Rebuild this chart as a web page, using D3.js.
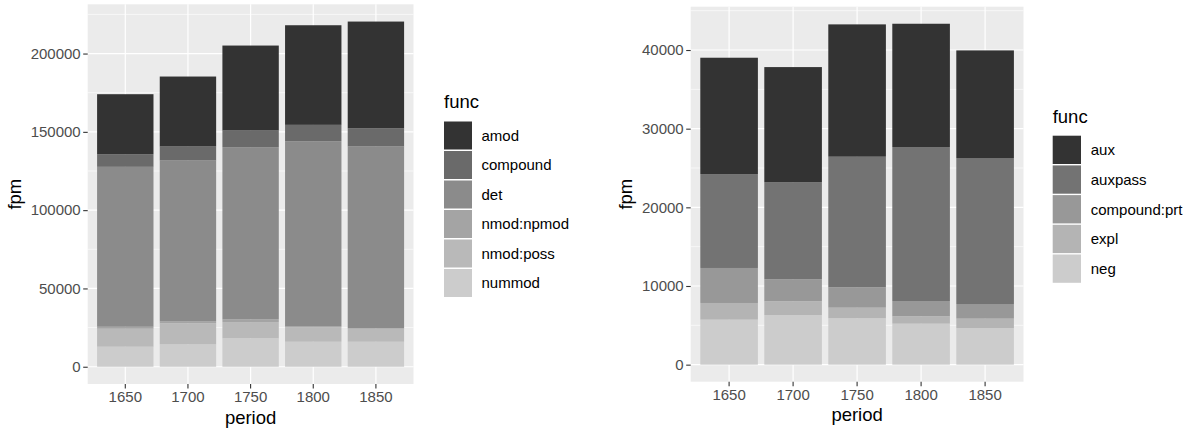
<!DOCTYPE html>
<html>
<head>
<meta charset="utf-8">
<script src="https://cdn.jsdelivr.net/npm/d3@7"></script>
<style>
  html, body { margin: 0; padding: 0; background: #fff; }
  svg { display: block; font-family: "Liberation Sans", Arial, Helvetica, sans-serif; }
</style>
</head>
<body>
<svg id="chart" width="1194" height="432"></svg>
<script>
// ---------- DATA ----------
const periods = ["1650", "1700", "1750", "1800", "1850"];

// Left chart (legend order, top of stack first)
const leftFuncs = ["amod", "compound", "det", "nmod:npmod", "nmod:poss", "nummod"];
const amodVals     = [38300, 44680, 54260, 63610, 68090];
const compoundVals = [8080, 8940, 10640, 10430, 11700];
const detVals      = [102130, 102550, 110000, 118080, 115960];
const npmodVals    = [1275, 1490, 1700, 640, 425];
const possVals     = [11485, 13400, 10420, 9360, 8295];
const nummodVals   = [12770, 14260, 18090, 15960, 15960];
const leftTicks = [0, 50000, 100000, 150000, 200000];

// Right chart
const rightFuncs = ["aux", "auxpass", "compound:prt", "expl", "neg"];
const auxVals     = [14790, 14655, 16820, 15675, 13680];
const auxpassVals = [11940, 12330, 16610, 19575, 18560];
const prtVals     = [4450, 2795, 2585, 1945, 1860];
const explVals    = [2120, 1740, 1355, 935, 1190];
const negVals     = [5720, 6310, 5890, 5210, 4660];
const rightTicks = [0, 10000, 20000, 30000, 40000];

const xTitle = "period", yTitle = "fpm", legendTitle = "func";

// ---------- HELPERS ----------
function greyColors(n, start = 0.2, end = 0.8, gamma = 2.2) {
  const a = Math.pow(start, gamma), b = Math.pow(end, gamma);
  return d3.range(n).map(i => {
    const v = Math.pow(a + (b - a) * i / (n - 1), 1 / gamma);
    const c = Math.round(v * 255);
    return d3.rgb(c, c, c).formatHex();
  });
}

const svg = d3.select("#chart");

function drawChart(cfg) {
  const { funcs, series, ticks, panel, legend } = cfg;
  const colors = greyColors(funcs.length);
  const rows = periods.map((p, i) => {
    const r = { period: p };
    funcs.forEach((f, k) => r[f] = series[k][i]);
    return r;
  });
  // stack bottom-first: last level at bottom
  const stackKeys = funcs.slice().reverse();
  const stacked = d3.stack().keys(stackKeys)(rows);
  const maxTot = d3.max(rows, r => d3.sum(funcs, f => r[f]));

  const x = d3.scaleBand().domain(periods)
    .range([panel.x0, panel.x1]).paddingInner(0.1).paddingOuter(0.15);
  const y = d3.scaleLinear().domain([-0.05 * maxTot, 1.05 * maxTot])
    .range([panel.y1, panel.y0]);

  const g = svg.append("g");
  // panel background
  g.append("rect").attr("x", panel.x0).attr("y", panel.y0)
    .attr("width", panel.x1 - panel.x0).attr("height", panel.y1 - panel.y0)
    .attr("fill", "#EBEBEB");
  // minor grid
  const step = ticks[1] - ticks[0];
  const [d0, d1] = y.domain();
  const minor = [];
  for (let v = Math.ceil((d0 - step / 2) / step) * step + step / 2; v <= d1; v += step) {
    if (v >= d0) minor.push(v);
  }
  g.selectAll(".minor").data(minor).join("line")
    .attr("x1", panel.x0).attr("x2", panel.x1)
    .attr("y1", d => y(d)).attr("y2", d => y(d))
    .attr("stroke", "#fff").attr("stroke-width", 0.6);
  // major grid
  g.selectAll(".majorY").data(ticks).join("line")
    .attr("x1", panel.x0).attr("x2", panel.x1)
    .attr("y1", d => y(d)).attr("y2", d => y(d))
    .attr("stroke", "#fff").attr("stroke-width", 1.2);
  g.selectAll(".majorX").data(periods).join("line")
    .attr("x1", d => x(d) + x.bandwidth() / 2).attr("x2", d => x(d) + x.bandwidth() / 2)
    .attr("y1", panel.y0).attr("y2", panel.y1)
    .attr("stroke", "#fff").attr("stroke-width", 1.2);

  // bars
  stacked.forEach(layer => {
    const col = colors[funcs.indexOf(layer.key)];
    g.append("g").selectAll("rect").data(layer).join("rect")
      .attr("x", d => x(d.data.period))
      .attr("width", x.bandwidth())
      .attr("y", d => y(d[1]))
      .attr("height", d => y(d[0]) - y(d[1]))
      .attr("fill", col);
  });

  // y axis
  const yAxis = d3.axisLeft(y).tickValues(ticks).tickSize(4.5).tickPadding(2.5)
    .tickFormat(d3.format("d"));
  const ya = g.append("g").attr("transform", `translate(${panel.x0},0)`).call(yAxis);
  ya.select(".domain").remove();
  ya.selectAll(".tick line").attr("stroke", "#333").attr("stroke-width", 1.1);
  ya.selectAll(".tick text").attr("fill", "#4D4D4D").attr("font-size", 15)
    .attr("font-family", "Liberation Sans, Arial, sans-serif");

  // x axis
  const xAxis = d3.axisBottom(x).tickSize(4.5).tickPadding(3);
  const xa = g.append("g").attr("transform", `translate(0,${panel.y1})`).call(xAxis);
  xa.select(".domain").remove();
  xa.selectAll(".tick line").attr("stroke", "#333").attr("stroke-width", 1.1);
  xa.selectAll(".tick text").attr("fill", "#4D4D4D").attr("font-size", 15)
    .attr("font-family", "Liberation Sans, Arial, sans-serif");

  // axis titles
  g.append("text").attr("x", (panel.x0 + panel.x1) / 2).attr("y", cfg.xTitleY)
    .attr("text-anchor", "middle").attr("font-size", 18.5).attr("fill", "#000")
    .text(xTitle);
  g.append("text")
    .attr("transform", `translate(${cfg.yTitleX},${(panel.y0 + panel.y1) / 2}) rotate(-90)`)
    .attr("text-anchor", "middle").attr("font-size", 18.5).attr("fill", "#000")
    .text(yTitle);

  // legend
  const lg = g.append("g");
  lg.append("text").attr("x", legend.x).attr("y", legend.titleY)
    .attr("font-size", 18.5).attr("fill", "#000").text(legendTitle);
  const items = lg.selectAll(".item").data(funcs).join("g")
    .attr("transform", (d, i) => `translate(${legend.x},${legend.top + i * legend.step})`);
  items.append("rect").attr("width", legend.size).attr("height", legend.size)
    .attr("fill", (d, i) => colors[i]);
  items.append("text").attr("x", legend.labelDx).attr("y", legend.size / 2)
    .attr("dy", "0.36em").attr("font-size", 15).attr("fill", "#000").text(d => d);
}

drawChart({
  funcs: leftFuncs,
  series: [amodVals, compoundVals, detVals, npmodVals, possVals, nummodVals],
  ticks: leftTicks,
  panel: { x0: 87.7, x1: 413.5, y0: 4.3, y1: 384 },
  xTitleY: 423.5, yTitleX: 21,
  legend: { x: 444, titleY: 107.5, top: 121.5, step: 29.5, size: 28, labelDx: 37.5 }
});

drawChart({
  funcs: rightFuncs,
  series: [auxVals, auxpassVals, prtVals, explVals, negVals],
  ticks: rightTicks,
  panel: { x0: 690.7, x1: 1023.5, y0: 6.7, y1: 381.7 },
  xTitleY: 420.5, yTitleX: 631.5,
  legend: { x: 1052.7, titleY: 122.7, top: 135.7, step: 29.7, size: 28.3, labelDx: 38 }
});
</script>
</body>
</html>
